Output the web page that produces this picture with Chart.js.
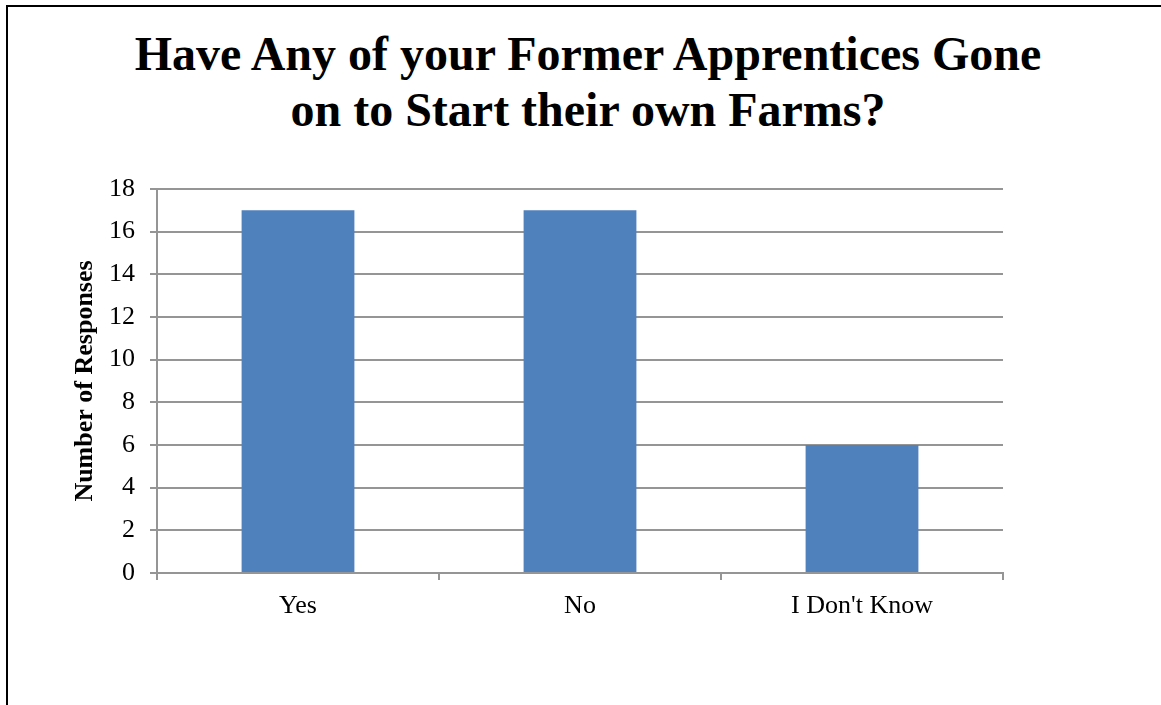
<!DOCTYPE html>
<html>
<head>
<meta charset="utf-8">
<title>Former Apprentices</title>
<script src="https://cdn.jsdelivr.net/npm/chart.js@4"></script>
<style>
  html, body { margin: 0; padding: 0; background: #fff; overflow: hidden; }
  #frame {
    position: absolute; left: 6px; top: 5px;
    width: 1162px; height: 760px;
    border-top: 2px solid #000; border-left: 2px solid #000;
  }
  #heading {
    position: absolute; left: 6px; top: 26px; width: 1164px;
    text-align: center;
    font: bold 48px/56px "Liberation Serif", "Times New Roman", serif;
    color: #000;
  }
  #wrap { position: absolute; left: 0; top: 0; width: 1161px; height: 705px; }
</style>
</head>
<body>
<div id="frame"></div>
<div id="heading">Have Any of your Former Apprentices Gone<br>on to Start their own Farms?</div>
<div id="wrap"><canvas id="farmChart"></canvas></div>
<script>
const categories = ['Yes', 'No', "I Don't Know"];
const responses = [17, 17, 6];
const yTitle = 'Number of Responses';

const serif = '"Liberation Serif", "Times New Roman", serif';
const gridGray = '#959595';

const ctx = document.getElementById('farmChart').getContext('2d');

const farmChart = new Chart(ctx, {
  type: 'bar',
  data: {
    labels: categories,
    datasets: [{
      label: yTitle,
      data: responses,
      backgroundColor: '#4F81BD',
      borderWidth: 0,
      barPercentage: 0.4,
      categoryPercentage: 1.0
    }]
  },
  options: {
    responsive: true,
    maintainAspectRatio: false,
    animation: false,
    layout: {
      padding: { top: 189, left: 0, right: 158, bottom: 72 }
    },
    plugins: {
      legend: { display: false },
      title: { display: false },
      tooltip: { enabled: false }
    },
    scales: {
      x: {
        grid: {
          offset: true,
          drawOnChartArea: false,
          drawTicks: true,
          tickLength: 7,
          tickColor: gridGray,
          lineWidth: 2
        },
        border: { display: true, color: gridGray, width: 2 },
        ticks: {
          color: '#000',
          padding: 11,
          font: { family: serif, size: 26 }
        },
        afterFit: (scale) => { scale.height = 60; }
      },
      y: {
        min: 0,
        max: 18,
        grid: {
          color: gridGray,
          lineWidth: 2,
          tickLength: 7,
          tickColor: gridGray
        },
        border: { display: true, color: gridGray, width: 2 },
        ticks: {
          stepSize: 2,
          color: '#000',
          padding: 15,
          font: { family: serif, size: 26 }
        },
        title: {
          display: true,
          text: yTitle,
          color: '#000',
          padding: { top: 70, bottom: 0 },
          font: { family: serif, size: 26, weight: 'bold' }
        },
        afterFit: (scale) => { scale.width = 157; }
      }
    }
  }
});
</script>
</body>
</html>
